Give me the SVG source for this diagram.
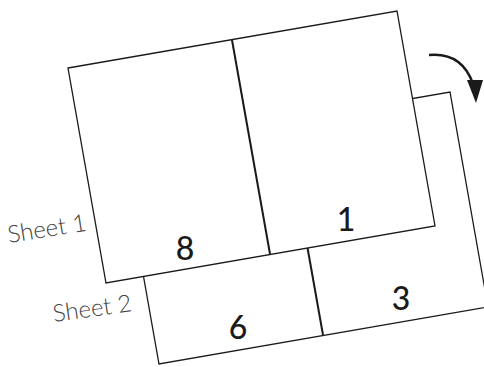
<svg xmlns="http://www.w3.org/2000/svg" width="484" height="367" viewBox="0 0 484 367">
<style>
.sheet{fill:#fff;stroke:#1a1a1a;stroke-width:1.3;stroke-linejoin:miter}
.fold{stroke:#1a1a1a;stroke-width:2;fill:none}
.num{font-family:Lato,"Open Sans",sans-serif;font-size:32px;font-weight:500;fill:#1a1a1a;text-anchor:middle}
.lbl{font-family:Lato,"Open Sans",sans-serif;font-size:24px;font-weight:300;fill:#444}
</style>
<rect width="484" height="367" fill="#fff"/>
<g id="sheet2">
<polygon class="sheet" points="121,149 450,92 488,307 159,364"/>
<line class="fold" x1="285" y1="121" x2="323" y2="335"/>
<text class="num" x="238" y="339">6</text>
<text class="num" x="401" y="310">3</text>
<text class="lbl" transform="translate(54,322) rotate(-8)">Sheet 2</text>
</g>
<g id="sheet1">
<polygon class="sheet" points="68,68 397,11 435,226 106,283"/>
<line class="fold" x1="232" y1="40" x2="270" y2="254"/>
<text class="num" x="185" y="260">8</text>
<text class="num" x="346" y="231">1</text>
<text class="lbl" transform="translate(9,243) rotate(-9)">Sheet 1</text>
</g>
<g id="connectors">
<path d="M429,55 Q462,52 473,84" fill="none" stroke="#1a1a1a" stroke-width="2.5"/>
<polygon points="476,103 467,80 483,80" fill="#1a1a1a"/>
</g>
</svg>
